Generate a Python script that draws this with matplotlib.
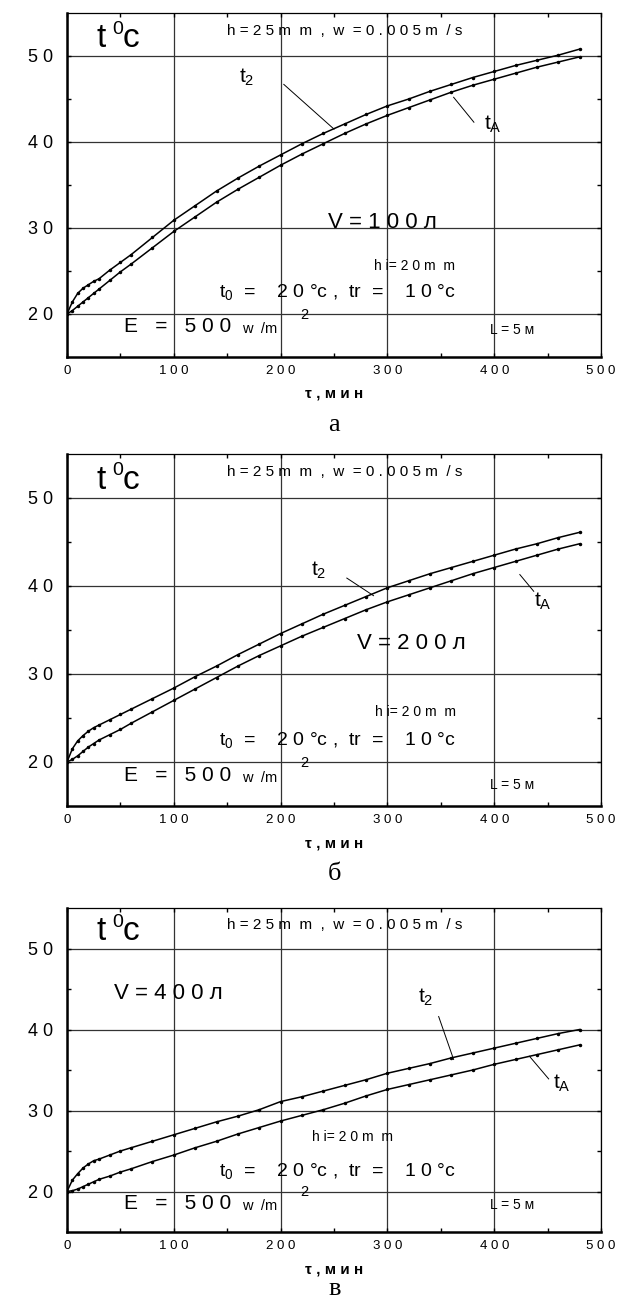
import numpy as np
import matplotlib
matplotlib.use("Agg")
import matplotlib.pyplot as plt

plt.rcParams['font.family'] = ['Liberation Sans', 'DejaVu Sans']
plt.rcParams['mathtext.fontset'] = 'custom'
plt.rcParams['mathtext.rm'] = 'Liberation Sans'
plt.rcParams['mathtext.it'] = 'Liberation Sans'

# time, min
tau = [0, 5, 10, 15, 20, 25, 30, 40, 50, 60, 80, 100, 120, 140, 160, 180, 200,
       220, 240, 260, 280, 300, 320, 340, 360, 380, 400, 420, 440, 460, 480]

# panel a, V = 100 l
t2_a = [20, 21.4, 22.4, 23.0, 23.4, 23.8, 24.1, 25.1, 26.0, 26.9, 28.9, 30.9, 32.6,
        34.3, 35.8, 37.2, 38.5, 39.8, 41.0, 42.1, 43.2, 44.2, 45.0, 45.9, 46.7,
        47.5, 48.2, 48.9, 49.5, 50.1, 50.8]
tA_a = [20, 20.4, 20.9, 21.4, 21.9, 22.4, 22.9, 23.9, 24.9, 25.8, 27.7, 29.6, 31.3,
        33.0, 34.5, 35.9, 37.3, 38.6, 39.8, 41.0, 42.1, 43.1, 44.0, 44.9, 45.8,
        46.6, 47.3, 48.0, 48.7, 49.3, 49.9]

# panel b, V = 200 l
t2_b = [20, 21.5, 22.4, 23.0, 23.5, 23.9, 24.2, 24.8, 25.4, 26.0, 27.2, 28.4, 29.7,
        30.9, 32.2, 33.4, 34.6, 35.7, 36.8, 37.8, 38.8, 39.8, 40.6, 41.4, 42.1,
        42.8, 43.5, 44.2, 44.8, 45.5, 46.1]
tA_b = [20, 20.3, 20.7, 21.2, 21.7, 22.1, 22.5, 23.1, 23.7, 24.4, 25.7, 27.0, 28.3,
        29.6, 30.9, 32.1, 33.2, 34.3, 35.3, 36.3, 37.3, 38.2, 39.0, 39.8, 40.6,
        41.4, 42.1, 42.8, 43.5, 44.2, 44.8]

# panel c, V = 400 l
t2_c = [20, 21.4, 22.2, 22.9, 23.4, 23.8, 24.0, 24.5, 25.0, 25.4, 26.2, 27.0, 27.8,
        28.6, 29.3, 30.1, 31.1, 31.7, 32.4, 33.1, 33.8, 34.6, 35.2, 35.8, 36.5,
        37.1, 37.7, 38.3, 38.9, 39.5, 40.0]
tA_c = [20, 20.1, 20.3, 20.6, 20.9, 21.2, 21.5, 21.9, 22.4, 22.8, 23.7, 24.5, 25.4,
        26.2, 27.1, 27.9, 28.7, 29.4, 30.1, 30.9, 31.8, 32.6, 33.2, 33.8, 34.4,
        35.0, 35.7, 36.3, 36.9, 37.5, 38.1]

volumes = ['V = 1 0 0 л', 'V = 2 0 0 л', 'V = 4 0 0 л']
panel_names = ['а', 'б', 'в']
xticks = [0, 100, 200, 300, 400, 500]
yticks = [20, 30, 40, 50]

W, H = 619, 1301
fig = plt.figure(figsize=(W / 100, H / 100), dpi=100)

# pixel boxes of the three panels: top, bottom
boxes = [(13, 357), (454, 806), (908, 1232)]
left, right = 67, 601

# label positions per panel (data coords)
t2_pos = [(161, 47.5), (228, 41.8), (329, 44.0)]
t2_lead = [((203, 46.7), (250, 41.5)), ((262, 40.9), (287, 38.9)), ((348, 41.6), (362, 36.3))]
tA_pos = [(390, 42.1), (437, 38.3), (455, 33.4)]
tA_lead = [((362, 45.2), (381, 42.3)), ((424, 41.3), (437, 39.4)), ((433, 36.7), (451, 33.9))]
v_pos = [(244, 30.6), (272, 33.5), (44, 44.5)]
hi_pos = [(287, 25.6), (288, 25.7), (229, 26.7)]
L_pos = [(396, 18.1), (396, 17.4), (396, 18.3)]

curves = [(t2_a, tA_a), (t2_b, tA_b), (t2_c, tA_c)]

for i, (top, bot) in enumerate(boxes):
    ax = fig.add_axes([left / W, 1 - bot / H, (right - left) / W, (bot - top) / H])
    t2, tA = curves[i]
    ax.plot(tau, t2, color='k', lw=1.1, marker='.', ms=3)
    ax.plot(tau, tA, color='k', lw=1.1, marker='.', ms=3)

    ax.set_xlim(0, 500)
    ax.set_ylim(15, 55)
    ax.set_xticks(xticks)
    ax.set_xticklabels([' '.join(str(v)) for v in xticks], fontsize=9.5)
    ax.set_yticks(yticks)
    ax.set_yticklabels([' '.join(str(v)) for v in yticks], fontsize=13)
    ax.set_xticks(np.arange(50, 500, 100), minor=True)
    ax.set_yticks([25, 35, 45], minor=True)
    ax.tick_params(which='both', direction='in', top=True, right=True, length=3, width=1)
    ax.tick_params(axis='y', pad=10)
    ax.tick_params(axis='x', pad=6)
    ax.grid(True, which='major', color='#333333', lw=0.9)
    for s in ['left', 'bottom']:
        ax.spines[s].set_linewidth(1.8)
    for s in ['top', 'right']:
        ax.spines[s].set_linewidth(0.9)

    # t0c label
    ax.text(28, 51.0, 't', fontsize=24, va='baseline')
    ax.text(42, 52.6, '0', fontsize=14, va='baseline')
    ax.text(52, 51.0, 'c', fontsize=24, va='baseline')

    ax.text(150, 52.9, 'h = 2 5 m  m  ,  w  = 0 . 0 0 5 m  / s', fontsize=11, va='center')
    ax.text(*t2_pos[i], r'$\mathregular{t_2}$', fontsize=15, va='center')
    ax.text(*tA_pos[i], r'$\mathregular{t_A}$', fontsize=15, va='center')
    for (p0, p1) in (t2_lead[i], tA_lead[i]):
        ax.plot([p0[0], p1[0]], [p0[1], p1[1]], color='k', lw=0.7)
    ax.text(*v_pos[i], volumes[i], fontsize=16, va='center')
    ax.text(*hi_pos[i], 'h i= 2 0 m  m', fontsize=10, va='center')
    ax.text(142, 22.5, r'$\mathregular{t_0}$  =    2 0 °c ,  tr  =    1 0 °c',
            fontsize=14, va='center')
    ax.text(53, 18.5, 'E   =   5 0 0', fontsize=15, va='center')
    ax.text(164, 18.2, 'w  /m', fontsize=10.5, va='center')
    ax.text(218, 19.9, '2', fontsize=10.5, va='center')
    ax.text(*L_pos[i], 'L = 5 м', fontsize=10, va='center')

    fig.text(0.54, 1 - (bot + 37) / H, 'τ , м и н', fontsize=11, fontweight='bold',
             ha='center', va='center')
    fig.text(0.54, 1 - min(bot + 68, 1289) / H, panel_names[i], fontsize=19,
             family='Liberation Serif', ha='center', va='center')

fig.savefig('out.png', dpi=100)
